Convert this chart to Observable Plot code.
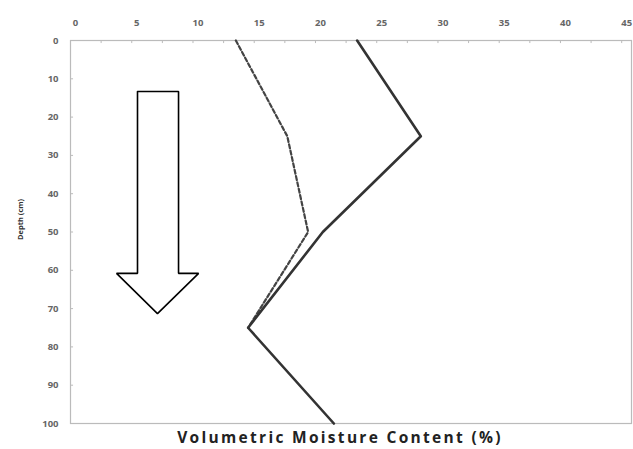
<!DOCTYPE html>
<html>
<head>
<meta charset="utf-8">
<script src="https://cdn.jsdelivr.net/npm/d3@7"></script>
<script src="https://cdn.jsdelivr.net/npm/@observablehq/plot@0.6"></script>
<style>
  body { margin: 0; background: #fff; overflow: hidden; }
  #chart svg { display: block; }
  .xlab text { letter-spacing: 2.3px; }
</style>
</head>
<body>
<div id="chart"></div>
<script>
const depth = [0, 25, 50, 75, 100];
const solidMoisture = [23.4, 28.6, 20.6, 14.5, 21.5];
const dashedDepth = [0, 25, 50, 75];
const dashedMoisture = [13.5, 17.7, 19.4, 14.5];
const xTickLabels = [0, 5, 10, 15, 20, 25, 30, 35, 40, 45];
const xMinorTicks = d3.range(0, 45.01, 2.5);
const yTickLabels = [0, 10, 20, 30, 40, 50, 60, 70, 80, 90, 100];
const xTitle = "Volumetric Moisture Content (%)";
const yTitle = "Depth (cm)";
// annotation arrow outline (data units)
const arrowX = [5.47, 8.82, 8.82, 10.46, 7.1, 3.76, 5.47, 5.47];
const arrowY = [13.3, 13.3, 60.8, 60.8, 71.3, 60.8, 60.8, 13.3];

const solid = depth.map((d, i) => ({d, m: solidMoisture[i]}));
const dashed = dashedDepth.map((d, i) => ({d, m: dashedMoisture[i]}));
const arrow = arrowX.map((x, i) => ({x, y: arrowY[i]}));

const chart = Plot.plot({
  width: 633,
  height: 449,
  marginTop: 40,
  marginBottom: 26,
  marginLeft: 70,
  marginRight: 2,
  style: {fontFamily: "'Open Sans', sans-serif", background: "#fff"},
  x: {domain: [0, 45.8], axis: null},
  y: {domain: [0, 100], reverse: true, axis: null},
  marks: [
    Plot.frame({stroke: "#bbb", strokeWidth: 1.2}),
    Plot.ruleX(xMinorTicks, {x: d => d, y1: 0, y2: 0.8, stroke: "#bbb"}),
    Plot.ruleY(yTickLabels, {y: d => d, x1: 0, x2: 0.25, stroke: "#bbb"}),
    Plot.axisX(xTickLabels, {anchor: "top", tickSize: 0, tickPadding: 15, dx: 5,
      fontSize: 9.5, fontWeight: "bold", fill: "#666", label: null}),
    Plot.axisY(yTickLabels, {anchor: "left", tickSize: 0, tickPadding: 12,
      fontSize: 9.5, fontWeight: "bold", fill: "#666", label: null}),
    Plot.text([yTitle], {frameAnchor: "left", dx: -50, dy: 8, rotate: -90,
      fontSize: 7.5, fontWeight: "bold", fill: "#333"}),
    Plot.text([xTitle], {frameAnchor: "bottom", dy: 15, dx: -11, lineAnchor: "middle",
      fontSize: 15.5, fontWeight: "bold", fill: "#222", className: "xlab"}),
    Plot.line(arrow, {x: "x", y: "y", stroke: "#000", strokeWidth: 1.6, fill: "#fff",
      strokeLinejoin: "miter"}),
    Plot.line(dashed, {x: "m", y: "d", stroke: "#444", strokeWidth: 2.2, strokeDasharray: "4,2.5"}),
    Plot.line(solid, {x: "m", y: "d", stroke: "#333", strokeWidth: 2.6})
  ]
});
document.getElementById("chart").appendChild(chart);
</script>
</body>
</html>
